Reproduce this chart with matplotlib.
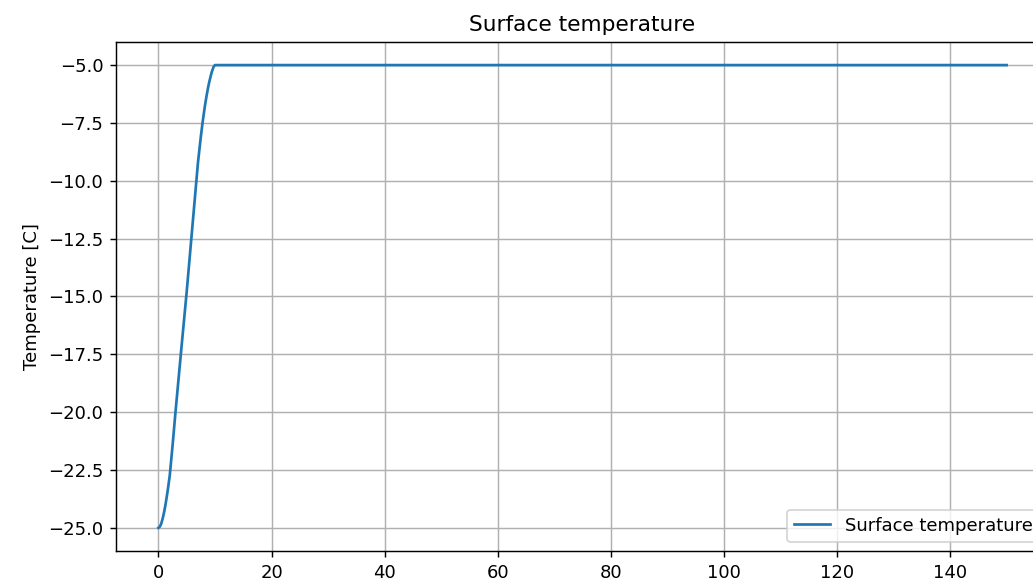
import matplotlib
matplotlib.use("Agg")
import matplotlib.pyplot as plt

time = [0, 0.25, 0.5, 0.75, 1, 1.25, 1.5, 1.75, 2, 2.5, 3, 4, 5, 6, 7, 7.5, 7.8, 8.2,
        8.5, 8.8, 9, 9.3, 9.5, 9.75, 10, 150]
temperature = [-25.0, -24.95, -24.82, -24.6, -24.33, -24.0, -23.62, -23.2, -22.75, -21.45,
               -20.05, -17.4, -14.8, -12.0, -9.2, -8.1, -7.5, -6.8,
               -6.35, -5.95, -5.72, -5.42, -5.25, -5.08, -5.0, -5.0]

DPI = 130
fig = plt.figure(figsize=(1033 / DPI, 582 / DPI), dpi=DPI)
ax = fig.add_axes([0.1123, 0.0533, 0.9032, 0.8746])
ax.plot(time, temperature, label="Surface temperature")
ax.set_title("Surface temperature")
ax.set_ylabel("Temperature [C]")
ax.grid(True)
ax.legend(loc="lower right")
fig.savefig("out.png", dpi=DPI)
